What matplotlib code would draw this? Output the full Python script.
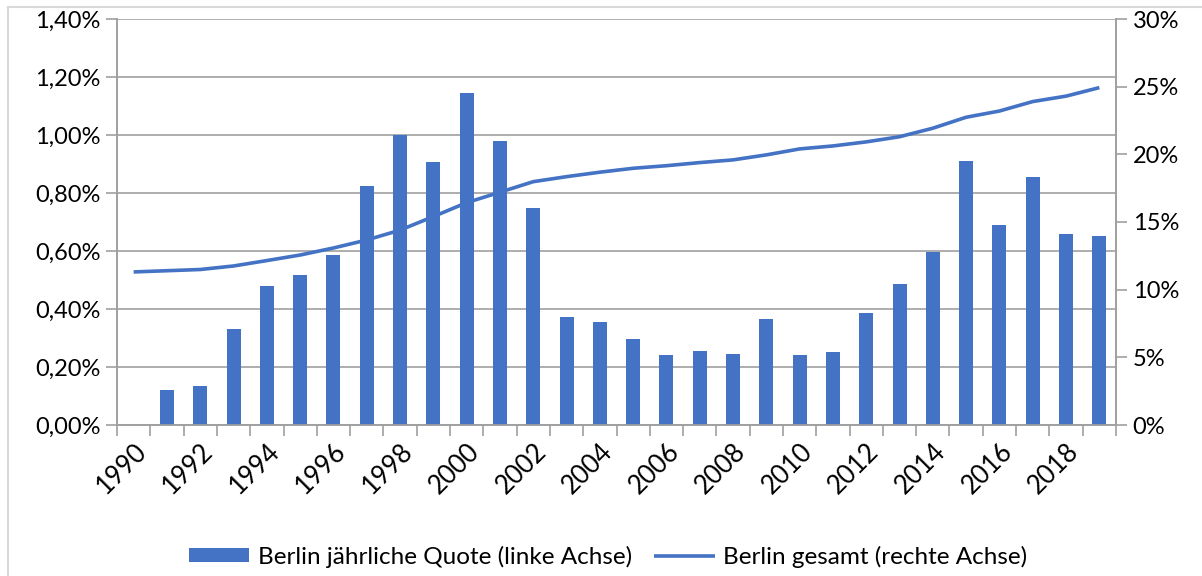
import matplotlib.pyplot as plt
from matplotlib.lines import Line2D
from matplotlib.ticker import FuncFormatter, FixedLocator

plt.rcParams['font.family'] = ['Lato', 'DejaVu Sans']

# data
years = list(range(1990, 2020))
quote_year = [None, 0.121, 0.134, 0.331, 0.479, 0.517, 0.586, 0.824, 1.000, 0.907,
              1.145, 0.979, 0.748, 0.372, 0.355, 0.297, 0.241, 0.255, 0.245, 0.366,
              0.241, 0.252, 0.386, 0.486, 0.597, 0.910, 0.690, 0.855, 0.659, 0.652]
quote_total = [11.31, 11.40, 11.49, 11.75, 12.15, 12.56, 13.08, 13.67, 14.40, 15.40,
               16.43, 17.20, 17.98, 18.35, 18.68, 18.97, 19.16, 19.39, 19.59, 19.96,
               20.40, 20.62, 20.92, 21.30, 21.93, 22.74, 23.20, 23.90, 24.30, 24.93]
left_ticks = [0, 0.2, 0.4, 0.6, 0.8, 1.0, 1.2, 1.4]
right_ticks = [0, 5, 10, 15, 20, 25, 30]

blue = '#4472C4'
grey = '#A0A0A0'
fs = 17

fig = plt.figure(figsize=(12.02, 5.76), dpi=100)
ax = fig.add_axes([117/1202, 1 - 425/576, (1116 - 117)/1202, (425 - 19)/576])
ax2 = ax.twinx()

x = list(range(len(years)))
bx = [i for i, v in zip(x, quote_year) if v is not None]
bv = [v for v in quote_year if v is not None]
b = ax.bar(bx, bv, width=0.42, color=blue, zorder=3,
           label='Berlin jährliche Quote (linke Achse)')
l, = ax2.plot(x, quote_total, color=blue, lw=2.6, solid_capstyle='butt',
              label='Berlin gesamt (rechte Achse)')

ax.set_xlim(-0.5, len(years) - 0.5)
ax.set_ylim(0, 1.4)
ax2.set_ylim(0, 30)

ax.yaxis.set_major_locator(FixedLocator(left_ticks))
ax.yaxis.set_major_formatter(FuncFormatter(lambda v, p: ('%.2f%%' % v).replace('.', ',')))
ax2.yaxis.set_major_locator(FixedLocator(right_ticks))
ax2.yaxis.set_major_formatter(FuncFormatter(lambda v, p: '%d%%' % round(v)))

ax.grid(axis='y', color=grey, lw=1.2, zorder=0)
ax.set_axisbelow(True)

# category boundary ticks, labels every second year
ax.set_xticks([i - 0.5 for i in range(len(years) + 1)], minor=True)
ax.set_xticks(x[::2])
ax.set_xticklabels([str(y) for y in years[::2]], rotation=45, ha='right',
                   va='top', rotation_mode='anchor', fontsize=18.5)
ax.tick_params(axis='x', which='major', length=0, pad=10)
ax.tick_params(axis='x', which='minor', length=8, color=grey, width=1.2)
ax.tick_params(axis='y', length=8, color=grey, width=1.2, labelsize=fs, pad=4)
ax2.tick_params(axis='y', length=8, color=grey, width=1.2, labelsize=fs, pad=4)

for a in (ax, ax2):
    for s in ('top',):
        a.spines[s].set_visible(False)
    for s in ('left', 'right', 'bottom'):
        a.spines[s].set_color(grey)
        a.spines[s].set_linewidth(1.2)

fig.legend(handles=[b, l], loc='center', bbox_to_anchor=(608/1202, 1 - 557/576),
           ncol=2, frameon=False, fontsize=17.5, handlelength=2.5,
           handleheight=0.5, columnspacing=0.9, handletextpad=0.35)

# outer chart border
fig.add_artist(Line2D([8/1202, 8/1202], [0, 1 - 7/576], color='#D9D9D9', lw=1.5))
fig.add_artist(Line2D([8/1202, 1], [1 - 7/576, 1 - 7/576], color='#D9D9D9', lw=1.5))

plt.savefig('out.png', dpi=100)
